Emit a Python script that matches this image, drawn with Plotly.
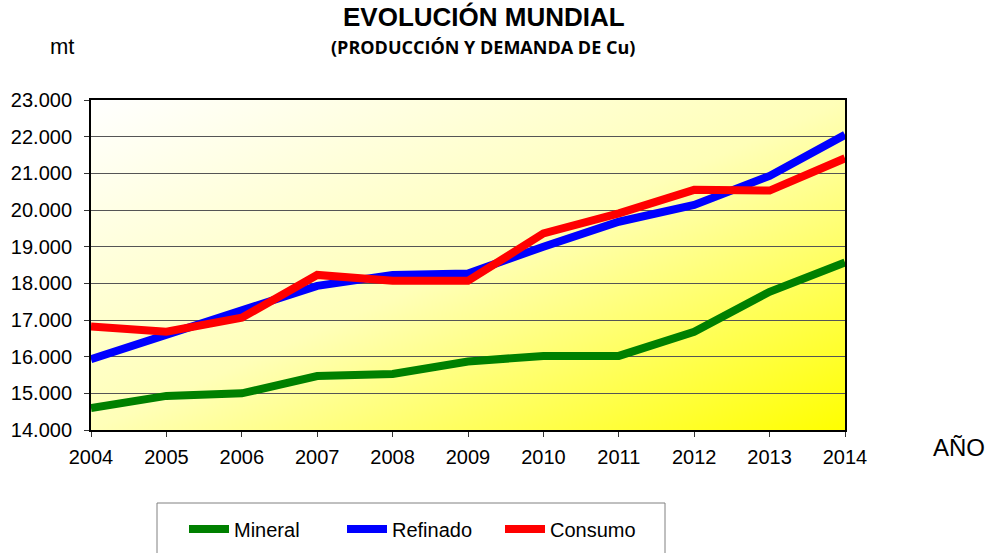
"""Evolución mundial del cobre: producción y demanda."""
import base64

import plotly.graph_objects as go

years = [2004, 2005, 2006, 2007, 2008, 2009, 2010, 2011, 2012, 2013, 2014]
mineral = [14600, 14930, 15000, 15470, 15530, 15870, 16020, 16020, 16680, 17770, 18570]
refinado = [15930, 16590, 17270, 17930, 18230, 18270, 19000, 19680, 20140, 20930, 22050]
consumo = [16820, 16680, 17060, 18230, 18070, 18070, 19360, 19910, 20550, 20530, 21410]

series = [
    ("Mineral", mineral, "#008000"),
    ("Refinado", refinado, "#0000FF"),
    ("Consumo", consumo, "#FF0000"),
]

FONT = "Liberation Sans, Arial, sans-serif"
W, H = 989, 553
# plot area in pixels
PL, PR, PT, PB = 91, 845, 100, 430


def px_x(x):
    return (x - PL) / (PR - PL)


def px_y(y):
    return (PB - y) / (PB - PT)


def label(text, x, y, size, family=FONT):
    return dict(
        text=text,
        xref="paper", yref="paper",
        x=px_x(x), y=px_y(y),
        xanchor="center", yanchor="middle",
        showarrow=False, font=dict(family=family, size=size, color="black"),
    )


# diagonal white -> yellow background for the plot area
svg = (
    '<svg xmlns="http://www.w3.org/2000/svg" width="100" height="100" '
    'viewBox="0 0 100 100" preserveAspectRatio="none">'
    '<defs><linearGradient id="g" x1="0" y1="0" x2="1" y2="1">'
    '<stop offset="0" stop-color="#FFFFFF"/>'
    '<stop offset="0.5" stop-color="#FFFFB8"/>'
    '<stop offset="1" stop-color="#FFFF00"/>'
    '</linearGradient></defs>'
    '<rect width="100" height="100" fill="url(#g)"/></svg>'
)
bg_src = "data:image/svg+xml;base64," + base64.b64encode(svg.encode()).decode()

fig = go.Figure()
for name, vals, color in series:
    fig.add_trace(
        go.Scatter(
            x=years,
            y=vals,
            name=name,
            mode="lines",
            line=dict(color=color, width=8),
        )
    )

fig.update_layout(
    width=W,
    height=H,
    margin=dict(l=PL, r=W - PR, t=PT, b=H - PB, autoexpand=False),
    paper_bgcolor="white",
    plot_bgcolor="white",
    separators=",.",
    font=dict(family=FONT, color="black", size=20),
    images=[
        dict(
            source=bg_src,
            xref="paper",
            yref="paper",
            x=0,
            y=1,
            sizex=1,
            sizey=1,
            xanchor="left",
            yanchor="top",
            sizing="stretch",
            layer="below",
        )
    ],
    shapes=[
        # legend frame
        dict(
            type="rect",
            xref="paper", yref="paper",
            x0=px_x(157), x1=px_x(665), y0=px_y(503), y1=px_y(600),
            line=dict(color="#808080", width=1),
            fillcolor="white",
            layer="below",
        )
    ],
    legend=dict(
        orientation="h",
        x=px_x(184),
        y=px_y(529),
        xanchor="left",
        yanchor="middle",
        bgcolor="rgba(0,0,0,0)",
        borderwidth=0,
        font=dict(family=FONT, size=20),
        entrywidth=103,
        itemwidth=40,
    ),
    annotations=[
        label("<b>EVOLUCIÓN MUNDIAL</b>", 484, 17, 26),
        label("<b>(PRODUCCIÓN Y DEMANDA DE Cu)</b>", 483, 47, 18,
              family="Open Sans, sans-serif"),
        label("mt", 62, 47, 22),
        label("AÑO", 959, 448, 24),
    ],
)

fig.update_xaxes(
    range=[2004, 2014],
    tickmode="array",
    tickvals=years,
    ticks="outside",
    ticklen=5,
    tickcolor="#333",
    ticklabelstandoff=3,
    showline=True,
    linecolor="black",
    linewidth=2,
    mirror=True,
    showgrid=False,
    zeroline=False,
    automargin=False,
)
fig.update_yaxes(
    range=[14000, 23000],
    dtick=1000,
    tickformat=",.0f",
    ticks="outside",
    ticklen=5,
    tickcolor="#333",
    ticklabelstandoff=8,
    showline=True,
    linecolor="black",
    linewidth=2,
    mirror=True,
    showgrid=True,
    gridcolor="#555555",
    gridwidth=1,
    zeroline=False,
    automargin=False,
)

fig.write_html(
    "out.html",
    config={"displayModeBar": False},
    post_script="document.body.style.margin = '0';",
)
